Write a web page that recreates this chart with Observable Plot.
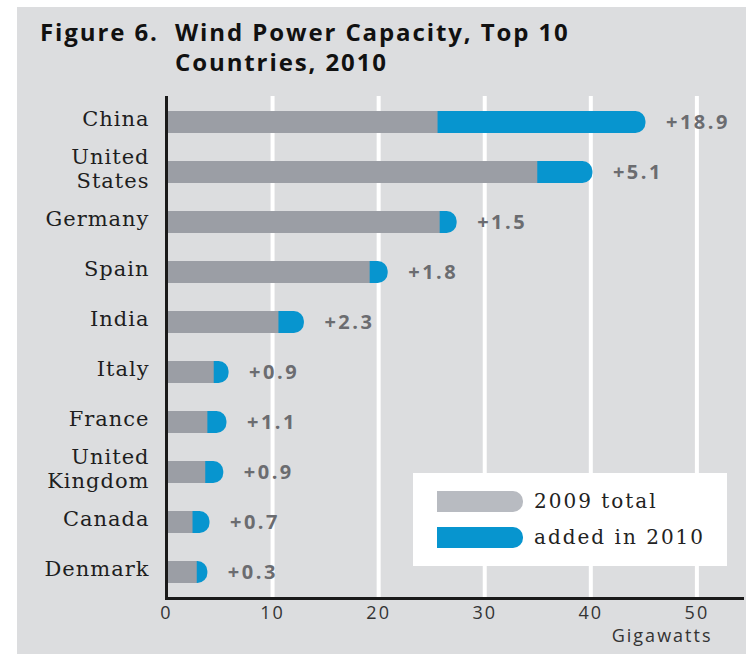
<!DOCTYPE html>
<html>
<head>
<meta charset="utf-8">
<script src="https://cdn.jsdelivr.net/npm/d3@7"></script>
<script src="https://cdn.jsdelivr.net/npm/@observablehq/plot@0.6"></script>
<style>
  body { margin: 0; background: #fff; }
  #wrap { position: relative; width: 746px; height: 654px; overflow: hidden; }
  #panel { position: absolute; left: 17px; top: 7px; right: 0; bottom: 0; background: #dcdddf; }
  .t { position: absolute; font-family: "Open Sans"; font-weight: 700; font-size: 24px; letter-spacing: 1.9px; color: #111; white-space: nowrap; line-height: 30px; }
  #chart { position: absolute; left: 0; top: 0; }
  #legend { position: absolute; left: 413px; top: 473px; width: 314px; height: 93px; background: #fff; }
  .sw { position: absolute; left: 24px; width: 86px; height: 21px; border-radius: 0 10px 10px 0; }
  .lt { position: absolute; left: 121px; font-family: "DejaVu Serif"; font-size: 20px; letter-spacing: 2px; color: #222; line-height: 21px; white-space: nowrap; }
  g[font-family="DejaVu Serif"] text { letter-spacing: 1px; }
  g[font-weight="bold"] text { letter-spacing: 2.5px; }
  g[font-family="Open Sans"]:not([font-weight]) text { letter-spacing: 2px; }
</style>
</head>
<body>
<div id="wrap">
  <div id="panel"></div>
  <div class="t" style="left:40px;top:17px;">Figure 6.</div>
  <div class="t" style="left:175px;top:17px;">Wind Power Capacity, Top 10<br>Countries, 2010</div>
  <div id="chart"></div>
  <div id="legend"></div>
</div>
<script>
// ---- data ----
const countries = ["China", "United States", "Germany", "Spain", "India", "Italy", "France", "United Kingdom", "Canada", "Denmark"];
const countryLabels = ["China", "United\nStates", "Germany", "Spain", "India", "Italy", "France", "United\nKingdom", "Canada", "Denmark"];
const cap2009 = [25.6, 35.0, 25.8, 19.2, 10.6, 4.5, 3.9, 3.7, 2.5, 2.9];   // grey bar end (GW)
const cap2010 = [45.2, 40.2, 27.4, 20.9, 13.0, 5.9, 5.7, 5.4, 4.1, 3.9];   // blue bar end (GW)
const added2010 = [18.9, 5.1, 1.5, 1.8, 2.3, 0.9, 1.1, 0.9, 0.7, 0.3];    // labels
const xTicks = [0, 10, 20, 30, 40, 50];
const gridTicks = [10, 20, 30, 40, 50];
const legendLabels = ["2009 total", "added in 2010"];
const colors = { grey: "#9b9ea5", blue: "#0795cf", legendGrey: "#b8bbc1" };

const rows = countries.map((c, i) => ({
  country: c, label: countryLabels[i], v2009: cap2009[i], v2010: cap2010[i], added: added2010[i]
}));
const stripes = rows.flatMap(r => gridTicks.filter(t => t < r.v2009).map(t => ({ country: r.country, x: t })));

const chart = Plot.plot({
  width: 746,
  height: 654,
  marginTop: 96,
  marginBottom: 56,
  marginLeft: 166,
  marginRight: 4,
  style: { background: "transparent", overflow: "visible", color: "#222" },
  x: { domain: [0, 54.3], label: null },
  y: { domain: countries, paddingInner: 0.57, paddingOuter: 0.25, label: null },
  marks: [
    Plot.ruleX(gridTicks, { stroke: "#fff", strokeWidth: 4 }),
    Plot.barX(rows, { y: "country", x1: 0, x2: "v2010", fill: colors.blue, rx: 10 }),
    Plot.barX(rows, { y: "country", x1: 0, x2: "v2009", fill: colors.grey }),
    Plot.ruleX(stripes, { x: "x", y: "country", stroke: "#fff", strokeOpacity: 0.2, strokeWidth: 4 }),
    Plot.ruleX([0], { stroke: "#1a1a1a", strokeWidth: 3 }),
    Plot.frame({ anchor: "bottom", stroke: "#1a1a1a", strokeWidth: 3 }),
    Plot.text(rows, {
      y: "country", x: "v2010", text: d => "+" + d.added.toFixed(1),
      dx: 20, textAnchor: "start", fill: "#6b6c70", fontWeight: "bold", fontSize: 20, fontFamily: "Open Sans"
    }),
    Plot.axisY({
      tickSize: 0, tickPadding: 17, fontSize: 21, fontFamily: "DejaVu Serif", fill: "#1e1e1e",
      lineHeight: 1.12, dy: -4,
      tickFormat: d => countryLabels[countries.indexOf(d)], label: null
    }),
    Plot.axisX({
      ticks: xTicks, tickSize: 0, tickPadding: 8, fontSize: 18, fontFamily: "Open Sans", fill: "#333",
      label: null
    }),
    Plot.text(["Gigawatts"], {
      frameAnchor: "bottom-right", dx: -30, dy: 43, textAnchor: "end",
      fontSize: 18, fontFamily: "Open Sans", fill: "#333"
    })
  ]
});
document.getElementById("chart").appendChild(chart);

// legend
const legend = document.getElementById("legend");
[[colors.legendGrey, legendLabels[0], 18], [colors.blue, legendLabels[1], 54]].forEach(([c, txt, top]) => {
  const sw = document.createElement("div");
  sw.className = "sw"; sw.style.background = c; sw.style.top = top + "px";
  legend.appendChild(sw);
  const lt = document.createElement("div");
  lt.className = "lt"; lt.textContent = txt; lt.style.top = top + "px";
  legend.appendChild(lt);
});
</script>
</body>
</html>
